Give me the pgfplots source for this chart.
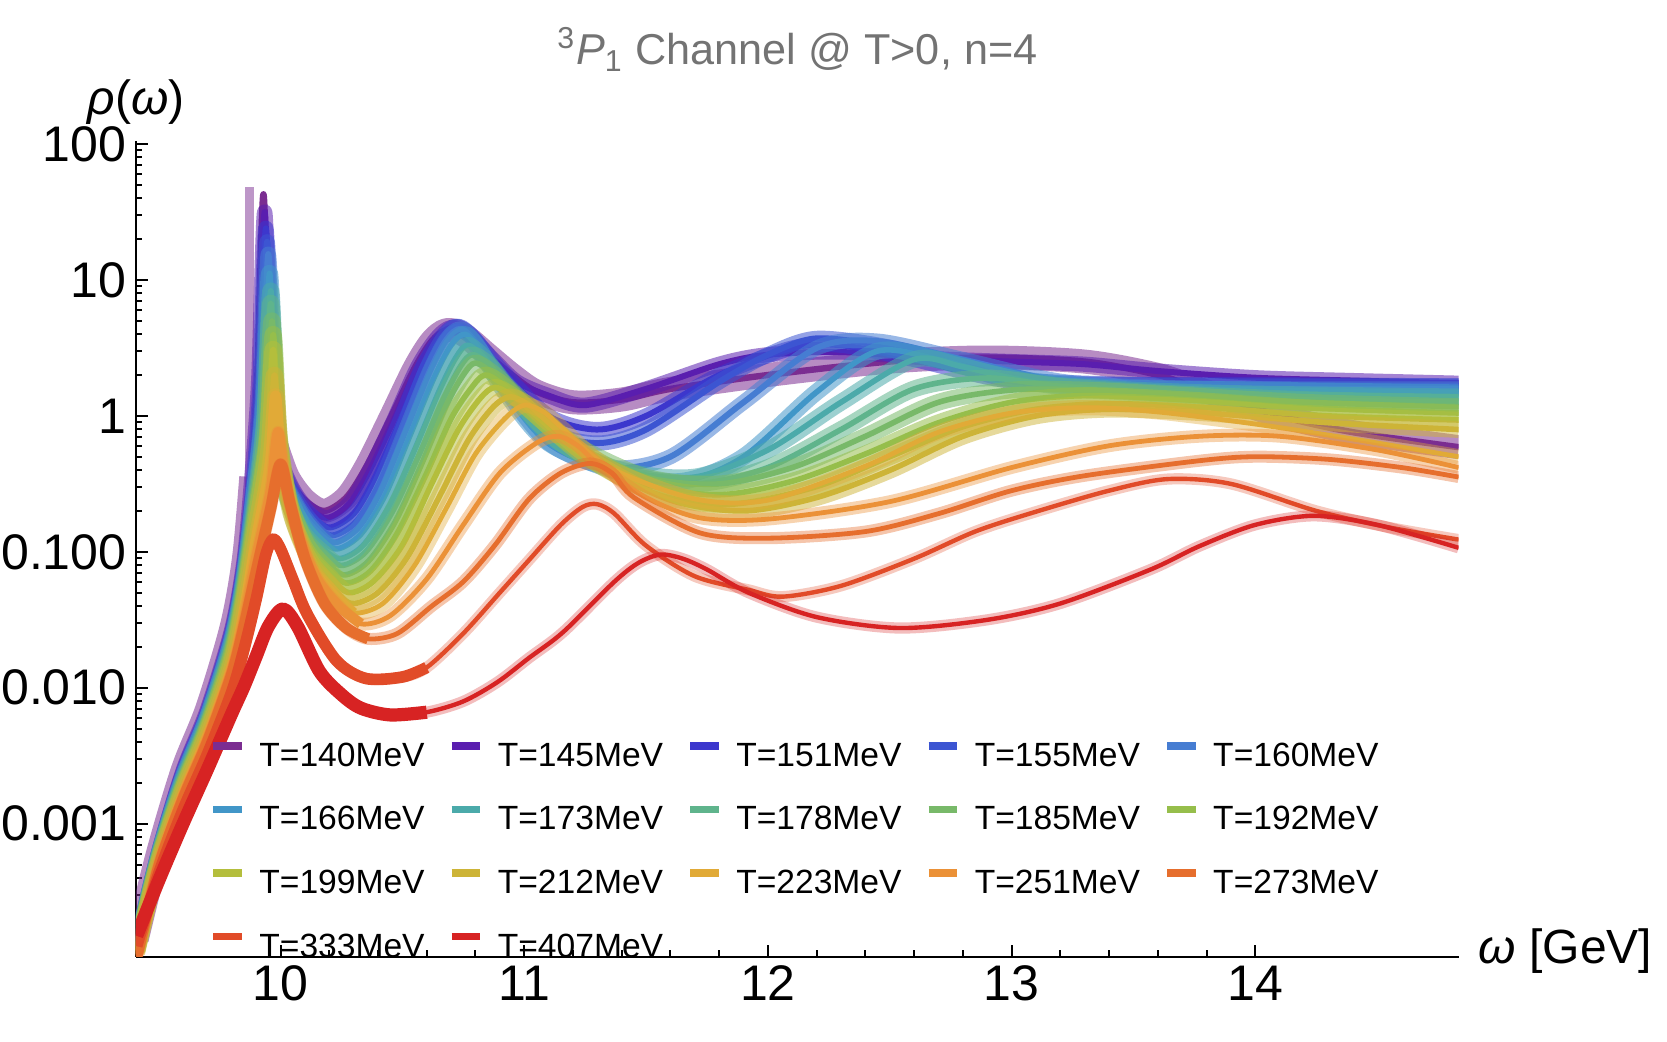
\documentclass[border=0pt]{standalone}
\usepackage{pgfplots}
\pgfplotsset{compat=1.18}
\usepackage{pgfplotstable}
\usepackage{fontspec}
\setmainfont{Liberation Sans}

\definecolor{c140}{RGB}{123,45,145}
\definecolor{c145}{RGB}{90,30,175}
\definecolor{c151}{RGB}{60,55,205}
\definecolor{c155}{RGB}{60,85,210}
\definecolor{c160}{RGB}{70,125,210}
\definecolor{c166}{RGB}{65,150,200}
\definecolor{c173}{RGB}{75,170,170}
\definecolor{c178}{RGB}{95,180,140}
\definecolor{c185}{RGB}{120,185,105}
\definecolor{c192}{RGB}{150,190,75}
\definecolor{c199}{RGB}{180,190,60}
\definecolor{c212}{RGB}{205,180,55}
\definecolor{c223}{RGB}{225,170,55}
\definecolor{c251}{RGB}{235,145,55}
\definecolor{c273}{RGB}{230,110,45}
\definecolor{c333}{RGB}{225,75,40}
\definecolor{c407}{RGB}{215,35,35}
\definecolor{titlegray}{RGB}{115,115,115}

% spectral functions rho(omega), one table per temperature
\pgfplotstableread{
x y
9.41 0.000141
9.5 0.000631
9.6 0.00251
9.7 0.00708
9.8 0.0282
9.85 0.0891
9.88 0.355
9.905 2.0
9.93 42.7
9.955 2.0
9.98 0.631
10.03 0.355
10.1 0.240
10.18 0.200
10.27 0.251
10.35 0.417
10.45 0.955
10.55 2.24
10.62 3.55
10.68 4.27
10.75 3.98
10.85 2.82
10.95 2.0
11.05 1.51
11.2 1.26
11.4 1.32
11.6 1.58
12.0 2.0
12.5 2.51
12.9 2.69
13.3 2.51
13.6 2.0
13.8 1.51
14.1 1.0
14.4 0.759
14.834 0.589
}\tA
\pgfplotstableread{
x y
9.41 0.000135
9.5 0.000617
9.6 0.00245
9.7 0.00692
9.8 0.0269
9.85 0.0851
9.88 0.316
9.91 1.78
9.935 31.6
9.96 1.78
9.99 0.562
10.04 0.316
10.1 0.219
10.19 0.178
10.28 0.224
10.36 0.380
10.46 0.891
10.56 2.24
10.64 3.72
10.7 4.47
10.77 3.98
10.87 2.63
10.97 1.78
11.1 1.41
11.25 1.20
11.5 1.58
11.8 2.40
12.0 2.82
12.3 2.95
12.7 2.63
13.0 2.51
13.3 2.40
13.6 2.14
14.0 1.91
14.4 1.82
14.834 1.74
}\tB
\pgfplotstableread{
x y
9.41 0.000132
9.5 0.000617
9.6 0.00240
9.7 0.00661
9.8 0.0257
9.85 0.0794
9.89 0.355
9.915 1.58
9.94 24.0
9.965 1.58
9.995 0.501
10.05 0.282
10.12 0.191
10.2 0.151
10.3 0.191
10.38 0.331
10.48 0.832
10.58 2.24
10.66 3.80
10.72 4.57
10.79 3.80
10.9 2.24
11.1 1.0
11.3 0.794
11.5 1.0
11.8 2.0
12.1 3.16
12.3 3.31
12.6 2.60
13.0 1.80
13.5 1.70
14.0 1.70
14.834 1.66
}\tC
\pgfplotstableread{
x y
9.41 0.000129
9.5 0.000603
9.6 0.00229
9.7 0.00646
9.8 0.0245
9.85 0.0741
9.89 0.316
9.92 1.41
9.945 19.1
9.97 1.41
10.0 0.447
10.06 0.251
10.13 0.166
10.21 0.132
10.31 0.166
10.4 0.302
10.5 0.794
10.6 2.24
10.67 3.80
10.73 4.57
10.8 3.63
10.9 2.0
11.1 0.794
11.3 0.631
11.5 0.794
11.8 1.78
12.0 2.82
12.2 3.72
12.5 3.20
12.8 2.30
13.0 1.85
13.5 1.70
14.0 1.66
14.834 1.66
}\tD
\pgfplotstableread{
x y
9.41 0.000126
9.5 0.000589
9.6 0.00224
9.7 0.00631
9.8 0.0234
9.85 0.0692
9.89 0.282
9.925 1.26
9.95 15.5
9.975 1.26
10.005 0.398
10.07 0.219
10.14 0.148
10.22 0.117
10.32 0.151
10.41 0.282
10.51 0.759
10.61 2.09
10.68 3.63
10.74 4.37
10.81 3.31
10.9 1.78
11.1 0.631
11.35 0.417
11.6 0.501
11.9 1.26
12.2 3.16
12.45 3.55
12.8 2.60
13.2 1.80
13.6 1.62
14.2 1.58
14.834 1.58
}\tE
\pgfplotstableread{
x y
9.41 0.000126
9.5 0.000589
9.6 0.00219
9.7 0.00603
9.8 0.0224
9.85 0.0646
9.89 0.251
9.93 1.12
9.955 11.2
9.98 1.12
10.01 0.355
10.08 0.191
10.15 0.132
10.23 0.105
10.33 0.135
10.43 0.263
10.53 0.708
10.63 1.91
10.7 3.31
10.76 3.98
10.83 2.82
10.92 1.51
11.1 0.631
11.4 0.380
11.65 0.331
11.9 0.501
12.2 1.50
12.45 3.00
12.7 2.60
13.0 1.90
13.4 1.62
14.0 1.55
14.834 1.48
}\tF
\pgfplotstableread{
x y
9.41 0.000123
9.5 0.000575
9.6 0.00209
9.7 0.00575
9.8 0.0209
9.85 0.0603
9.9 0.282
9.935 1.0
9.96 8.32
9.985 1.0
10.02 0.316
10.09 0.158
10.16 0.112
10.24 0.0891
10.34 0.112
10.45 0.224
10.55 0.562
10.65 1.51
10.72 2.69
10.77 3.31
10.85 2.51
10.95 1.41
11.15 0.631
11.4 0.398
11.7 0.355
12.0 0.562
12.3 1.26
12.6 2.60
12.8 2.30
13.1 1.75
13.5 1.55
14.0 1.45
14.834 1.38
}\tG
\pgfplotstableread{
x y
9.41 0.000120
9.5 0.000562
9.6 0.00200
9.7 0.00550
9.8 0.0200
9.85 0.0562
9.9 0.251
9.935 0.891
9.96 6.76
9.985 0.891
10.02 0.282
10.09 0.141
10.17 0.100
10.25 0.0794
10.35 0.100
10.46 0.200
10.57 0.525
10.67 1.35
10.74 2.34
10.79 2.82
10.87 2.24
10.97 1.32
11.15 0.631
11.4 0.380
11.7 0.316
12.0 0.417
12.3 0.794
12.6 1.58
12.9 1.90
13.2 1.65
13.6 1.48
14.2 1.32
14.834 1.26
}\tH
\pgfplotstableread{
x y
9.41 0.000117
9.5 0.000550
9.6 0.00195
9.7 0.00525
9.8 0.0186
9.85 0.0525
9.9 0.224
9.94 0.794
9.965 5.01
9.99 0.794
10.03 0.251
10.1 0.126
10.18 0.0871
10.26 0.0676
10.36 0.0851
10.47 0.166
10.58 0.447
10.68 1.20
10.75 2.0
10.8 2.45
10.88 2.0
11.0 1.26
11.2 0.631
11.5 0.355
11.8 0.316
12.1 0.417
12.4 0.708
12.7 1.26
13.0 1.55
13.3 1.55
13.7 1.42
14.2 1.26
14.834 1.17
}\tI
\pgfplotstableread{
x y
9.41 0.000117
9.5 0.000537
9.6 0.00186
9.7 0.00513
9.8 0.0178
9.85 0.0490
9.9 0.200
9.945 0.708
9.97 3.98
9.995 0.708
10.04 0.224
10.11 0.112
10.19 0.0759
10.27 0.0589
10.37 0.0724
10.48 0.138
10.6 0.380
10.7 0.955
10.78 1.58
10.84 2.0
10.92 1.66
11.02 1.12
11.2 0.603
11.5 0.316
11.8 0.263
12.1 0.331
12.4 0.525
12.7 0.891
13.0 1.26
13.3 1.41
13.7 1.32
14.2 1.15
14.834 1.05
}\tJ
\pgfplotstableread{
x y
9.41 0.000115
9.5 0.000525
9.6 0.00182
9.7 0.00490
9.8 0.0166
9.85 0.0457
9.9 0.178
9.945 0.631
9.97 3.09
9.995 0.631
10.04 0.200
10.11 0.100
10.2 0.0661
10.28 0.0501
10.38 0.0603
10.5 0.112
10.62 0.316
10.73 0.794
10.82 1.35
10.88 1.62
10.96 1.38
11.05 1.0
11.25 0.501
11.55 0.263
11.85 0.224
12.2 0.302
12.5 0.501
12.8 0.832
13.1 1.12
13.4 1.23
13.8 1.15
14.3 1.0
14.834 0.933
}\tK
\pgfplotstableread{
x y
9.41 0.000112
9.5 0.000513
9.6 0.00174
9.7 0.00468
9.8 0.0155
9.85 0.0417
9.9 0.151
9.95 0.525
9.975 2.0
10.0 0.562
10.05 0.178
10.12 0.0871
10.21 0.0562
10.29 0.0417
10.4 0.0501
10.52 0.0912
10.65 0.251
10.77 0.661
10.87 1.15
10.94 1.38
11.02 1.20
11.1 0.891
11.3 0.447
11.6 0.240
11.9 0.200
12.2 0.251
12.5 0.398
12.8 0.708
13.1 1.0
13.4 1.12
13.8 1.05
14.3 0.891
14.834 0.794
}\tL
\pgfplotstableread{
x y
9.41 0.000110
9.5 0.000501
9.6 0.00166
9.7 0.00447
9.8 0.0145
9.85 0.0372
9.9 0.126
9.955 0.417
9.98 1.41
10.005 0.447
10.06 0.158
10.13 0.0759
10.22 0.0479
10.3 0.0355
10.42 0.0417
10.55 0.0794
10.68 0.209
10.8 0.525
10.92 0.955
11.0 1.20
11.08 1.07
11.15 0.832
11.35 0.417
11.7 0.245
12.0 0.240
12.4 0.427
12.7 0.759
13.0 1.05
13.3 1.15
13.6 1.07
14.0 0.871
14.4 0.676
14.834 0.501
}\tM
\pgfplotstableread{
x y
9.41 0.000107
9.5 0.000490
9.6 0.00158
9.7 0.00417
9.8 0.0135
9.85 0.0316
9.9 0.0891
9.96 0.282
9.99 0.759
10.02 0.316
10.08 0.126
10.15 0.0631
10.24 0.0398
10.33 0.0295
10.45 0.0339
10.6 0.0631
10.75 0.158
10.9 0.380
11.05 0.631
11.14 0.708
11.22 0.603
11.3 0.447
11.5 0.251
11.72 0.178
12.0 0.174
12.5 0.234
13.0 0.417
13.4 0.603
13.77 0.708
14.1 0.708
14.5 0.562
14.834 0.417
}\tN
\pgfplotstableread{
x y
9.41 0.000105
9.5 0.000479
9.6 0.00151
9.7 0.00398
9.8 0.0126
9.85 0.0282
9.9 0.0708
9.96 0.209
10.0 0.441
10.04 0.224
10.1 0.0891
10.18 0.0417
10.27 0.0275
10.36 0.0229
10.48 0.0251
10.62 0.0398
10.75 0.0603
10.88 0.112
11.02 0.245
11.15 0.380
11.27 0.447
11.36 0.380
11.45 0.251
11.72 0.138
12.0 0.126
12.4 0.141
12.7 0.191
13.0 0.282
13.3 0.363
13.77 0.468
14.0 0.501
14.3 0.479
14.6 0.417
14.834 0.355
}\tO
\pgfplotstableread{
x y
9.41 0.000126
9.5 0.000427
9.6 0.00126
9.7 0.00324
9.8 0.00933
9.85 0.0191
9.9 0.0447
9.94 0.0955
9.97 0.124
10.0 0.105
10.05 0.0631
10.11 0.0347
10.23 0.0158
10.35 0.0117
10.5 0.0120
10.6 0.0141
10.75 0.0251
10.9 0.0501
11.02 0.0871
11.15 0.158
11.24 0.214
11.3 0.224
11.37 0.191
11.5 0.111
11.7 0.0661
11.92 0.0525
12.06 0.0468
12.3 0.0562
12.6 0.0891
12.85 0.141
13.09 0.195
13.4 0.282
13.64 0.343
13.9 0.316
14.25 0.200
14.55 0.151
14.834 0.123
}\tP
\pgfplotstableread{
x y
9.41 0.000150
9.5 0.000380
9.6 0.00100
9.7 0.00251
9.8 0.00646
9.85 0.0102
9.9 0.0170
9.95 0.0282
10.01 0.0380
10.07 0.0282
10.16 0.0132
10.25 0.00891
10.33 0.00708
10.45 0.00631
10.6 0.00661
10.75 0.00794
10.89 0.0110
11.02 0.0166
11.16 0.0257
11.37 0.0603
11.47 0.0832
11.56 0.0955
11.65 0.0891
11.75 0.0741
11.92 0.0501
12.2 0.0331
12.54 0.0275
12.9 0.0316
13.2 0.0417
13.57 0.0741
13.77 0.110
14.0 0.158
14.24 0.184
14.5 0.158
14.834 0.107
}\tQ

% band (error band look) + central line
\newcommand{\tcurve}[5]{%
  \addplot[color=#2, opacity=#5, line width=#3, smooth, line join=round, forget plot] table {#1};
  \addplot[color=#2, line width=#4, smooth, line join=round] table {#1};
}
% heavier stroke over the low-omega part
\newcommand{\tthick}[4]{%
  \addplot[color=#2, line width=#3, smooth, line join=round, restrict x to domain=9.3:#4, forget plot] table {#1};
}

\begin{document}
\begin{tikzpicture}
\begin{axis}[
  name=ax,
  scale only axis,
  width=330.7pt, height=203.9pt,
  ymode=log,
  xmin=9.407, xmax=14.834,
  ymin=1.05e-4, ymax=105,
  axis lines=left,
  axis line style={-, line width=0.6pt, black},
  tick align=inside,
  major tick length=3pt,
  minor tick length=1.6pt,
  tick style={black, line width=0.5pt},
  xtick={10,11,12,13,14},
  xticklabels={10,11,12,13,14},
  minor x tick num=4,
  ytick={0.001,0.01,0.1,1,10,100},
  yticklabels={0.001,0.010,0.100,1,10,100},
  minor ytick={2e-4,3e-4,4e-4,5e-4,6e-4,7e-4,8e-4,9e-4,
    0.002,0.003,0.004,0.005,0.006,0.007,0.008,0.009,
    0.02,0.03,0.04,0.05,0.06,0.07,0.08,0.09,
    0.2,0.3,0.4,0.5,0.6,0.7,0.8,0.9,
    2,3,4,5,6,7,8,9,20,30,40,50,60,70,80,90},
  /pgf/number format/assume math mode=true,
  tick label style={font=\fontsize{12.5}{14}\selectfont, inner sep=0pt},
  yticklabel style={xshift=-2.2pt},
  xticklabel style={yshift=-2.1pt},
  title={\textsuperscript{3}\textit{P}\textsubscript{1} Channel @ T>0, n=4},
  title style={font=\fontsize{10.8}{12}\selectfont, text=titlegray,
    at={(0.5,1)}, anchor=base, yshift=13.1pt},
  every axis y label/.style={at={(axis description cs:0,1)}, anchor=south,
    inner sep=0pt, yshift=4pt, font=\fontsize{12}{14}\selectfont},
  ylabel={\textit{ρ}(\textit{ω})},
  every axis x label/.style={at={(axis description cs:1,0)}, anchor=west,
    inner sep=0pt, xshift=4.8pt, yshift=1.5pt, font=\fontsize{12}{14}\selectfont},
  xlabel={\textit{ω} [GeV]},
  legend columns=5,
  legend cell align=left,
  legend style={draw=none, fill=none, at={(0.0555,0.2634)}, anchor=north west,
    inner sep=0pt, outer sep=0pt, font=\fontsize{8.4}{9}\selectfont,
    nodes={inner sep=0pt, text height=5.9pt, text depth=0pt},
    /tikz/every odd column/.append style={column sep=3.4pt},
    /tikz/every even column/.append style={column sep=5.8pt},
    row sep=9.8pt},
  legend image code/.code={\draw[line width=1.9pt] (0pt,2.2pt) -- (7.2pt,2.2pt);},
]
% T=140 MeV: error band split around the narrow resonance, with its tall bar
\addplot[color=c140, opacity=0.5, line width=2.2pt, forget plot] coordinates {(9.872,0.3) (9.872,48)};
\addplot[color=c140, opacity=0.55, line width=6pt, smooth, line join=round, restrict x to domain=9.3:9.89, forget plot] table {\tA};
\addplot[color=c140, opacity=0.55, line width=6pt, smooth, line join=round, restrict x to domain=9.97:15, forget plot] table {\tA};
\addplot[color=c140, line width=1.6pt, smooth, line join=round] table {\tA};
\addlegendentry{T=140MeV}
\tcurve{\tB}{c145}{3.8pt}{1.5pt}{0.55}
\addlegendentry{T=145MeV}
\tcurve{\tC}{c151}{3.8pt}{1.5pt}{0.55}
\addlegendentry{T=151MeV}
\tcurve{\tD}{c155}{3.8pt}{1.5pt}{0.55}
\addlegendentry{T=155MeV}
\tcurve{\tE}{c160}{3.8pt}{1.5pt}{0.55}
\addlegendentry{T=160MeV}
\tcurve{\tF}{c166}{4.2pt}{1.4pt}{0.55}
\addlegendentry{T=166MeV}
\tcurve{\tG}{c173}{4.2pt}{1.4pt}{0.55}
\addlegendentry{T=173MeV}
\tcurve{\tH}{c178}{4.2pt}{1.4pt}{0.55}
\addlegendentry{T=178MeV}
\tcurve{\tI}{c185}{4.2pt}{1.4pt}{0.55}
\addlegendentry{T=185MeV}
\tcurve{\tJ}{c192}{4.2pt}{1.4pt}{0.55}
\addlegendentry{T=192MeV}
\tcurve{\tK}{c199}{4.2pt}{1.4pt}{0.5}
\addlegendentry{T=199MeV}
\tcurve{\tL}{c212}{4.2pt}{1.4pt}{0.5}
\addlegendentry{T=212MeV}
\tcurve{\tM}{c223}{3.8pt}{1.2pt}{0.4}
\addlegendentry{T=223MeV}
\tthick{\tM}{c223}{2.6pt}{10.35}
\tcurve{\tN}{c251}{3.2pt}{1.2pt}{0.4}
\addlegendentry{T=251MeV}
\tthick{\tN}{c251}{2.6pt}{10.4}
\tcurve{\tO}{c273}{3.0pt}{1.2pt}{0.4}
\addlegendentry{T=273MeV}
\tthick{\tO}{c273}{2.8pt}{10.4}
\tcurve{\tP}{c333}{2.8pt}{1.1pt}{0.3}
\addlegendentry{T=333MeV}
\tthick{\tP}{c333}{2.9pt}{10.6}
\tcurve{\tQ}{c407}{2.8pt}{1.1pt}{0.3}
\addlegendentry{T=407MeV}
\tthick{\tQ}{c407}{3.3pt}{10.6}
\end{axis}
\path ([shift={(-34.0pt,-21.3pt)}]ax.south west) rectangle ++(416.8pt,260.5pt);
\end{tikzpicture}
\end{document}
